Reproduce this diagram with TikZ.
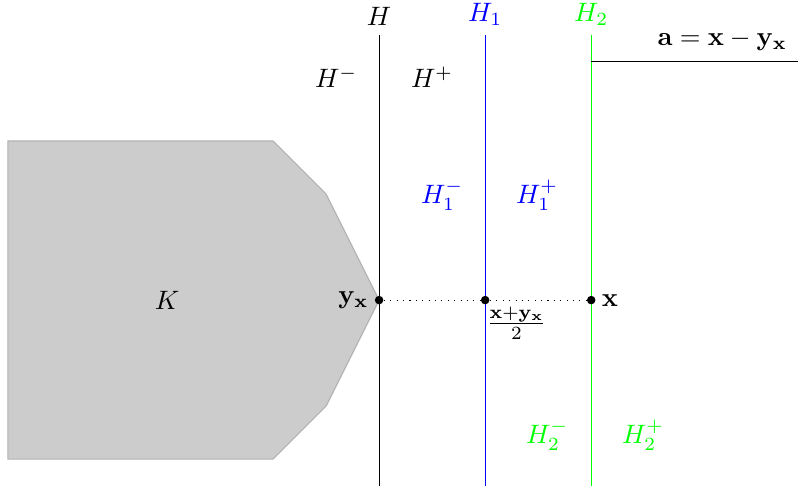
\documentclass[tikz,border=0pt]{standalone}
\usepackage{amsmath}
\usepackage{xcolor}
\usepackage{tikz}
\usetikzlibrary{positioning,calc}

\begin{document}
\begin{tikzpicture}[x=0.7cm, y=0.7cm,
  dot/.style={circle, fill=black, inner sep=0pt, minimum size=3.2pt},
  hyp/.style={thin},
  lbl/.style={inner sep=1pt}]
  \useasboundingbox (-7.15,-3.58) rectangle (7.9,5.66);
  % convex set K
  \fill[black!20, draw=black!30] (-7,3) -- (-2,3) -- (-1,2) -- (0,0) -- (-1,-2) -- (-2,-3) -- (-7,-3) -- cycle;
  \node (K) at (-4,0) {$K$};
  % hyperplanes
  \coordinate (Hb) at (0,-3.5);  \coordinate (Ht) at (0,5);
  \coordinate (H1b) at (2,-3.5); \coordinate (H1t) at (2,5);
  \coordinate (H2b) at (4,-3.5); \coordinate (H2t) at (4,5);
  \draw[hyp] (Hb) -- (Ht);
  \draw[hyp, blue] (H1b) -- (H1t);
  \draw[hyp, green] (H2b) -- (H2t);
  \node[above=0pt of Ht] (H) {$H$};
  \node[above=0pt of H1t, blue] (H1) {$H_1$};
  \node[above=0pt of H2t, green] (H2) {$H_2$};
  \node (Hm) at (-0.81,4.2) {$H^-$};
  \node (Hp) at (1.0,4.2) {$H^+$};
  \node[blue] (H1m) at (1.19,1.98) {$H_1^-$};
  \node[blue] (H1p) at (2.98,1.98) {$H_1^+$};
  \node[green] (H2m) at (3.17,-2.55) {$H_2^-$};
  \node[green] (H2p) at (4.98,-2.55) {$H_2^+$};
  % points
  \node[dot] (yx) at (0,0) {};
  \node[dot] (m) at (2,0) {};
  \node[dot] (x) at (4,0) {};
  \draw[dotted] (yx) -- (m) -- (x);
  \node[left=1pt of yx, lbl] (lyx) {$\mathbf{y_x}$};
  \node[right=1pt of x, lbl] (lx) {$\mathbf{x}$};
  \node[below right=0pt and -2pt of m, lbl] (lm) {$\frac{\mathbf{x}+\mathbf{y_x}}{2}$};
  % normal vector
  \coordinate (a0) at (4,4.5);
  \coordinate (a1) at (8,4.5);
  \draw (a0) -- (a1);
  \node (la) at (6.47,4.9) {$\mathbf{a}=\mathbf{x}-\mathbf{y_x}$};
\end{tikzpicture}
\end{document}
